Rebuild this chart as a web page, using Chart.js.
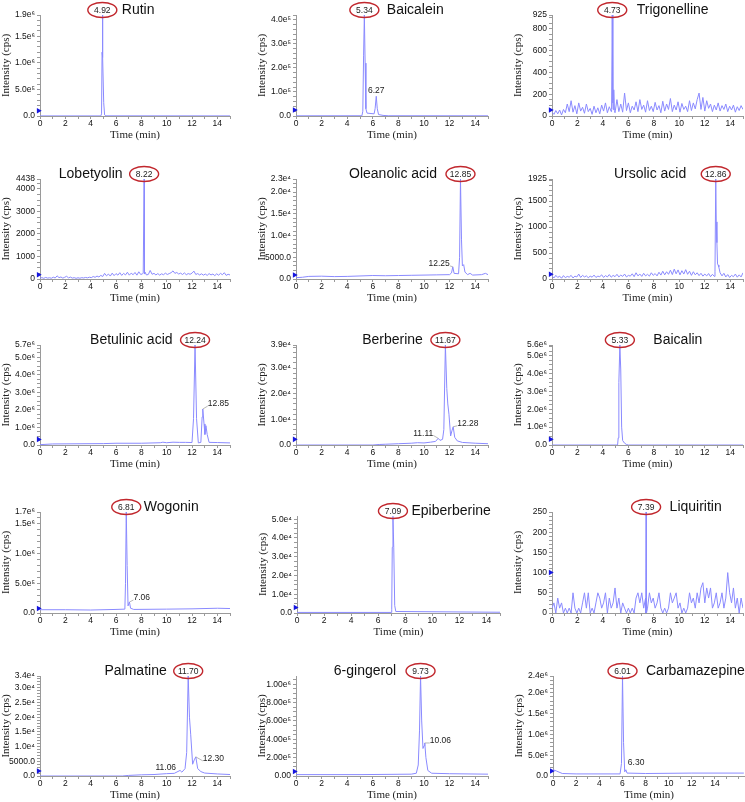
<!DOCTYPE html>
<html>
<head>
<meta charset="utf-8">
<script src="https://cdn.jsdelivr.net/npm/chart.js@4.4.0/dist/chart.umd.min.js"></script>
<style>
  html, body { margin: 0; padding: 0; background: #fff; }
  #wrap { position: relative; width: 745px; height: 802px; overflow: hidden; background: #fff; }
  .panel { position: absolute; }
</style>
</head>
<body>
<div id="wrap"></div>
<script>
// time grid (min) shared by the noisy traces
const noiseTime = [0,0.15,0.3,0.45,0.6,0.75,0.9,1.05,1.2,1.35,1.5,1.65,1.8,1.95,2.1,2.25,2.4,2.55,2.7,2.85,
  3,3.15,3.3,3.45,3.6,3.75,3.9,4.05,4.2,4.35,4.5,4.65,4.8,4.95,5.1,5.25,5.4,5.55,5.7,5.85,
  6,6.15,6.3,6.45,6.6,6.75,6.9,7.05,7.2,7.35,7.5,7.65,7.8,7.95,8.1,8.25,8.4,8.55,8.7,8.85,
  9,9.15,9.3,9.45,9.6,9.75,9.9,10.05,10.2,10.35,10.5,10.65,10.8,10.95,11.1,11.25,11.4,11.55,11.7,11.85,
  12,12.15,12.3,12.45,12.6,12.75,12.9,13.05,13.2,13.35,13.5,13.65,13.8,13.95,14.1,14.25,14.4,14.55,14.7,14.85,15];

// [time, intensity] pairs
const rutinTrace = [[0,1500],[4.8,1500],[4.86,4e4],[4.9,1.2e6],[4.92,1.9e6],[4.97,1.1e6],[5.03,2.5e5],[5.1,2e4],[5.2,3000],[15,2000]];
const baicaleinTrace = [[0,800],[5.15,1000],[5.22,2e4],[5.28,2.5e5],[5.34,4.2e5],[5.4,2.2e5],[5.46,3e4],[5.55,1.2e4],[6.1,9000],
  [6.18,3e4],[6.27,8.2e4],[6.35,3e4],[6.45,6000],[6.8,2500],[7.2,1000],[15,800]];
const trigNoise = [35,15,50,20,55,10,60,30,110,40, 140,35,95,20,120,45,80,25,110,40, 70,15,90,30,75,20,100,45,120,30,
  85,40,60,30,150,40,110,35,210,50, 120,30,90,55,130,40,150,60,100,35, 140,50,90,40,125,55,95,30,135,45,
  110,60,160,40,100,55,130,35,115,60, 90,40,140,50,120,65,150,210,60,170, 45,140,70,110,40,100,55,120,45,95,
  60,110,40,90,55,100,35,85,50,95, 60];
const trigPeak = [[4.68,60],[4.73,925],[4.78,120],[4.85,240],[4.9,50]];
const lobNoise = [40,60,30,70,40,55,35,80,45,140, 60,90,40,75,120,50,85,40,60,30, 55,35,60,45,70,50,80,60,110,75,
  130,90,160,110,250,140,220,130,260,150, 240,170,280,160,250,180,300,170,260,190, 290,170,320,200,230,220,180,200,380,210,
  250,180,240,170,230,190,260,200,240,280, 360,250,290,220,260,200,270,190,240,210, 260,350,200,240,180,230,170,220,160,240,
  180,220,150,230,170,250,190,280,160,210, 180];
const lobPeak = [[8.15,260],[8.22,4438],[8.3,300]];
const oleanolicTrace = [[0,300],[0.5,400],[1,600],[2,650],[3,550],[4,600],[5,700],[6,800],[7,750],[8,800],[9,850],[10,900],
  [11,950],[12,1000],[12.15,1400],[12.25,2800],[12.35,1300],[12.7,1200],[12.78,5000],[12.85,2.3e4],[12.93,9000],[13,3000],
  [13.1,3300],[13.2,1600],[13.4,1000],[13.6,1300],[13.8,900],[14.5,1000],[14.8,1300],[15,1000]];
const ursNoise = [60,20,70,30,55,15,65,25,50,35, 70,20,55,40,95,30,70,40,60,25, 55,35,75,30,55,45,80,30,65,40,
  85,35,70,45,90,40,75,50,95,40, 70,55,100,45,120,60,95,50,110,60, 90,55,120,70,105,60,130,75,150,80,
  140,90,170,85,190,100,175,80,160,95, 180,90,150,70,140,80,120,65,110,55, 95,60,105,45,90,50,1100,270,120,60,
  110,40,85,30,70,45,95,35,80,40, 120];
const ursPeak = [[12.8,150],[12.86,1925],[12.95,700],[13,290],[13.1,230]];
const betulinicTrace = [[0,2e4],[1,6e4],[3,7e4],[5,8e4],[6,1e5],[8,1e5],[9.5,1.3e5],[9.7,1.6e5],[10,1.3e5],[10.5,1.6e5],
  [11,1.5e5],[11.5,1.5e5],[12,1.4e5],[12.12,1.5e6],[12.24,5.7e6],[12.36,1.5e6],[12.5,1.2e5],[12.7,1.5e5],[12.8,1.6e6],
  [12.85,2.05e6],[12.95,1.2e6],[13.02,6e5],[13.1,1.1e6],[13.2,6e5],[13.35,1.5e5],[14,1.4e5],[15,1.2e5]];
const berberineTrace = [[0,0],[6,0],[6.5,200],[7,300],[8,500],[9,700],[9.5,900],[10,800],[10.5,1100],[10.9,1400],[11.11,2600],
  [11.25,1800],[11.45,2200],[11.55,6000],[11.67,3.9e4],[11.78,2.2e4],[11.86,1.6e4],[11.95,1.2e4],[12.08,3500],[12.18,5500],
  [12.28,7100],[12.4,3000],[12.6,1600],[13,1000],[14,700],[15,500]];
const baicalinTrace = [[0,0],[5.15,0],[5.2,4e5],[5.25,3.5e6],[5.33,5.6e6],[5.4,4.2e6],[5.47,1e6],[5.55,2.5e5],[5.7,1e5],
  [5.85,3e4],[6,0],[15,0]];
const wogoninTrace = [[0,5.5e4],[2,5.5e4],[4,5e4],[6,6e4],[6.7,6.5e4],[6.75,5e5],[6.81,1.7e6],[6.88,8e5],[6.95,1.2e5],
  [7.06,1.85e5],[7.15,8e4],[7.4,6e4],[10,6.5e4],[12,7e4],[14,8e4],[15,7.5e4]];
const epiberberineTrace = [[0,300],[6.95,300],[7,2000],[7.04,3.5e4],[7.09,5.15e4],[7.15,3.5e4],[7.22,4000],[7.3,800],[15,400]];
const liqNoise = [12,25,0,37,12,25,0,12,0,12, 0,50,12,0,12,0,25,50,12,50, 0,12,0,25,50,37,12,25,50,0,
  37,12,25,62,12,37,0,25,12,0, 12,0,12,0,37,50,25,50,12,37, 12,50,25,37,12,25,50,12,0,12,
  0,12,50,25,37,50,12,25,0,12, 0,12,50,25,37,12,50,25,62,75, 25,62,37,62,12,25,50,12,25,50,
  12,37,100,50,25,62,12,37,0,37, 12];
const liqPeak = [[7.36,0],[7.39,250],[7.42,0]];
const palmatineTrace = [[0,0],[6.5,0],[7,200],[8,400],[9,500],[10,800],[10.6,900],[11.06,1900],[11.2,1300],[11.45,2500],
  [11.58,8000],[11.7,3.4e4],[11.8,2e4],[11.9,1.4e4],[12.05,4000],[12.18,5500],[12.3,6500],[12.45,2500],[12.7,1500],
  [13,1000],[14,700],[15,500]];
const gingerolTrace = [[0,1.5e4],[5,1.5e4],[9,2e4],[9.4,3e4],[9.55,1.2e5],[9.65,5e5],[9.73,1.09e6],[9.82,6e5],[9.92,3e5],
  [10,3.3e5],[10.06,3.6e5],[10.15,2e5],[10.3,6e4],[10.6,3e4],[12,2.5e4],[15,2e4]];
const carbamazepineTrace = [[0,1.5e5],[0.3,1.2e5],[0.8,6e4],[2,5e4],[5.8,5e4],[5.92,3e5],[6.01,2.4e6],[6.1,8e5],[6.2,1e5],
  [6.3,1.5e5],[6.4,7e4],[8,6e4],[12,7e4],[16.5,7e4]];

// axis tick values and labels
const xTickLabels = [0,2,4,6,8,10,12,14];
const rutinYTicks = [0,5e5,1e6,1.5e6,1.9e6];            const rutinYLabels = ['0.0','5.0e⁵','1.0e⁶','1.5e⁶','1.9e⁶'];
const baicaleinYTicks = [0,1e5,2e5,3e5,4e5];             const baicaleinYLabels = ['0.0','1.0e⁵','2.0e⁵','3.0e⁵','4.0e⁵'];
const trigYTicks = [0,200,400,600,800,925];              const trigYLabels = ['0','200','400','600','800','925'];
const lobYTicks = [0,1000,2000,3000,4000,4438];          const lobYLabels = ['0','1000','2000','3000','4000','4438'];
const oleanolicYTicks = [0,5000,1e4,1.5e4,2e4,2.3e4];    const oleanolicYLabels = ['0.0','5000.0','1.0e⁴','1.5e⁴','2.0e⁴','2.3e⁴'];
const ursYTicks = [0,500,1000,1500,1925];                const ursYLabels = ['0','500','1000','1500','1925'];
const betulinicYTicks = [0,1e6,2e6,3e6,4e6,5e6,5.7e6];   const betulinicYLabels = ['0.0','1.0e⁶','2.0e⁶','3.0e⁶','4.0e⁶','5.0e⁶','5.7e⁶'];
const berberineYTicks = [0,1e4,2e4,3e4,3.9e4];           const berberineYLabels = ['0.0','1.0e⁴','2.0e⁴','3.0e⁴','3.9e⁴'];
const baicalinYTicks = [0,1e6,2e6,3e6,4e6,5e6,5.6e6];    const baicalinYLabels = ['0.0','1.0e⁶','2.0e⁶','3.0e⁶','4.0e⁶','5.0e⁶','5.6e⁶'];
const wogoninYTicks = [0,5e5,1e6,1.5e6,1.7e6];           const wogoninYLabels = ['0.0','5.0e⁵','1.0e⁶','1.5e⁶','1.7e⁶'];
const epiberberineYTicks = [0,1e4,2e4,3e4,4e4,5e4];      const epiberberineYLabels = ['0.0','1.0e⁴','2.0e⁴','3.0e⁴','4.0e⁴','5.0e⁴'];
const liqYTicks = [0,50,100,150,200,250];                const liqYLabels = ['0','50','100','150','200','250'];
const palmatineYTicks = [0,5000,1e4,1.5e4,2e4,2.5e4,3e4,3.4e4];
const palmatineYLabels = ['0.0','5000.0','1.0e⁴','1.5e⁴','2.0e⁴','2.5e⁴','3.0e⁴','3.4e⁴'];
const gingerolYTicks = [0,2e5,4e5,6e5,8e5,1e6];          const gingerolYLabels = ['0.00','2.00e⁵','4.00e⁵','6.00e⁵','8.00e⁵','1.00e⁶'];
const carbamazepineYTicks = [0,5e5,1e6,1.5e6,2e6,2.4e6]; const carbamazepineYLabels = ['0.0','5.0e⁵','1.0e⁶','1.5e⁶','2.0e⁶','2.4e⁶'];

function withNoise(noise, peak) {
  const pts = noise.map((v, k) => [noiseTime[k], v]).concat(peak);
  return pts.sort((a, b) => a[0] - b[0]);
}

const panels = [
  { name: 'Rutin', trace: rutinTrace, yTicks: rutinYTicks, yLabels: rutinYLabels, yMax: 1.9e6, minor: 1e5, marker: 1e5,
    peak: 4.92, side: 'right', gap: 5, notes: [] },
  { name: 'Baicalein', trace: baicaleinTrace, yTicks: baicaleinYTicks, yLabels: baicaleinYLabels, yMax: 4.2e5, minor: 2e4, marker: 2.5e4,
    peak: 5.34, side: 'right', gap: 8, notes: [{ rt: 6.27, v: 8.2e4, text: '6.27', dx: 0, dy: -6, align: 'center' }] },
  { name: 'Trigonelline', trace: withNoise(trigNoise, trigPeak), yTicks: trigYTicks, yLabels: trigYLabels, yMax: 925, minor: 50, marker: 55,
    peak: 4.73, side: 'right', gap: 10, notes: [] },
  { name: 'Lobetyolin', trace: withNoise(lobNoise, lobPeak), yTicks: lobYTicks, yLabels: lobYLabels, yMax: 4438, minor: 250, marker: 190,
    peak: 8.22, side: 'left', gap: 7, notes: [] },
  { name: 'Oleanolic acid', trace: oleanolicTrace, yTicks: oleanolicYTicks, yLabels: oleanolicYLabels, yMax: 2.3e4, minor: 1000, marker: 900,
    peak: 12.85, side: 'left', gap: 9, notes: [{ rt: 12.25, v: 2800, text: '12.25', dx: -3, dy: -3, align: 'right', leader: true }] },
  { name: 'Ursolic acid', trace: withNoise(ursNoise, ursPeak), yTicks: ursYTicks, yLabels: ursYLabels, yMax: 1925, minor: 100, marker: 90,
    peak: 12.86, side: 'left', gap: 15, notes: [] },
  { name: 'Betulinic acid', trace: betulinicTrace, yTicks: betulinicYTicks, yLabels: betulinicYLabels, yMax: 5.7e6, minor: 2.5e5, marker: 3.2e5,
    peak: 12.24, side: 'left', gap: 8, notes: [{ rt: 12.85, v: 2.05e6, text: '12.85', dx: 5, dy: -5, align: 'left', leader: true }] },
  { name: 'Berberine', trace: berberineTrace, yTicks: berberineYTicks, yLabels: berberineYLabels, yMax: 3.9e4, minor: 2000, marker: 2200,
    peak: 11.67, side: 'left', gap: 8, notes: [
      { rt: 11.11, v: 2600, text: '11.11', dx: -5, dy: -5, align: 'right', leader: true },
      { rt: 12.28, v: 7100, text: '12.28', dx: 4, dy: -3, align: 'left', leader: true }] },
  { name: 'Baicalin', trace: baicalinTrace, yTicks: baicalinYTicks, yLabels: baicalinYLabels, yMax: 5.6e6, minor: 2.5e5, marker: 3.2e5,
    peak: 5.33, side: 'right', gap: 19, notes: [] },
  { name: 'Wogonin', trace: wogoninTrace, yTicks: wogoninYTicks, yLabels: wogoninYLabels, yMax: 1.7e6, minor: 1e5, marker: 7.5e4,
    peak: 6.81, side: 'right', gap: 3, notes: [{ rt: 7.06, v: 1.85e5, text: '7.06', dx: 4, dy: -4, align: 'left', leader: true }] },
  { name: 'Epiberberine', trace: epiberberineTrace, yTicks: epiberberineYTicks, yLabels: epiberberineYLabels, yMax: 5.17e4, minor: 2500, marker: 2900,
    peak: 7.09, side: 'right', gap: 4, notes: [], xBox: [296.7, 500], yBox: [516, 612.7] },
  { name: 'Liquiritin', trace: withNoise(liqNoise, liqPeak), yTicks: liqYTicks, yLabels: liqYLabels, yMax: 250, minor: 10, marker: 100,
    peak: 7.39, side: 'right', gap: 9, notes: [] },
  { name: 'Palmatine', trace: palmatineTrace, yTicks: palmatineYTicks, yLabels: palmatineYLabels, yMax: 3.4e4, minor: 1000, marker: 1700,
    peak: 11.70, side: 'left', gap: 7, notes: [
      { rt: 11.06, v: 1900, text: '11.06', dx: -4, dy: -3, align: 'right', leader: false },
      { rt: 12.30, v: 6500, text: '12.30', dx: 7, dy: 2, align: 'left', leader: true }] },
  { name: '6-gingerol', trace: gingerolTrace, yTicks: gingerolYTicks, yLabels: gingerolYLabels, yMax: 1.09e6, minor: 5e4, marker: 5e4,
    peak: 9.73, side: 'left', gap: 10, notes: [{ rt: 10.06, v: 3.6e5, text: '10.06', dx: 5, dy: -2, align: 'left', leader: true }] },
  { name: 'Carbamazepine', trace: carbamazepineTrace, yTicks: carbamazepineYTicks, yLabels: carbamazepineYLabels, yMax: 2.4e6, minor: 1e5, marker: 1.2e5,
    peak: 6.01, side: 'right', gap: 9, xMax: 16.6, notes: [{ rt: 6.30, v: 1.5e5, text: '6.30', dx: 2, dy: -7, align: 'left', leader: false }],
    xBox: [553, 745] }
];

// pixel frame of each plot area
const colBox = [[40, 230], [296, 488], [552, 743]];
const rowBox = [[15, 116], [179, 279], [345, 445], [512, 612.7], [676, 776]];

const SANS = '"Liberation Sans", Arial, sans-serif';
const SERIF = '"Liberation Serif", "Times New Roman", serif';

function labelPlugin(p) {
  return {
    id: 'peakLabels',
    afterDatasetsDraw(chart) {
      const ctx = chart.ctx, xs = chart.scales.x, ys = chart.scales.y;
      ctx.save();
      const cx = xs.getPixelForValue(p.peak);
      const cy = ys.getPixelForValue(p.yMax) - 5;
      ctx.strokeStyle = '#c1272d';
      ctx.lineWidth = 1.4;
      ctx.beginPath();
      ctx.ellipse(cx, cy, 14.5, 7.5, 0, 0, Math.PI * 2);
      ctx.stroke();
      ctx.fillStyle = '#222';
      ctx.font = '8.5px ' + SANS;
      ctx.textAlign = 'center';
      ctx.textBaseline = 'middle';
      ctx.fillText(p.peak.toFixed(2), cx, cy + 0.5);

      ctx.font = '14px ' + SANS;
      ctx.fillStyle = '#111';
      if (p.side === 'right') {
        ctx.textAlign = 'left';
        ctx.fillText(p.name, cx + 14.5 + p.gap, cy);
      } else {
        ctx.textAlign = 'right';
        ctx.fillText(p.name, cx - 14.5 - p.gap, cy);
      }

      ctx.font = '8.5px ' + SANS;
      p.notes.forEach(n => {
        const px = xs.getPixelForValue(n.rt), py = ys.getPixelForValue(n.v);
        const tx = px + n.dx, ty = py + n.dy;
        ctx.textAlign = n.align;
        ctx.fillStyle = '#222';
        ctx.fillText(n.text, tx, ty);
        if (n.leader) {
          ctx.strokeStyle = '#999';
          ctx.lineWidth = 0.7;
          ctx.beginPath();
          ctx.moveTo(px, py);
          ctx.lineTo(tx, ty + 2);
          ctx.stroke();
        }
      });
      ctx.restore();
    }
  };
}

const wrap = document.getElementById('wrap');
const padTop = 20, yW = 40, xH = 26, padR = 12;

panels.forEach((p, i) => {
  const col = i % 3, row = Math.floor(i / 3);
  const [ax0, ax1] = p.xBox || colBox[col];
  const [ay0, ay1] = p.yBox || rowBox[row];
  const xMax = p.xMax || 15;

  const div = document.createElement('div');
  div.className = 'panel';
  const w = Math.round(ax1 - ax0 + yW + padR);
  const h = Math.round(padTop + (ay1 - ay0) + xH);
  div.style.left = (ax0 - yW) + 'px';
  div.style.top = (ay0 - padTop) + 'px';
  div.style.width = w + 'px';
  div.style.height = h + 'px';
  const cv = document.createElement('canvas');
  cv.width = w; cv.height = h;
  cv.style.width = w + 'px'; cv.style.height = h + 'px';
  div.appendChild(cv);
  wrap.appendChild(div);

  // labelled y ticks plus unlabelled minor ones
  const yVals = p.yTicks.slice();
  for (let v = 0; v <= p.yMax + 1e-9; v += p.minor) {
    if (!yVals.some(t => Math.abs(t - v) < p.minor * 1e-3)) yVals.push(v);
  }
  yVals.sort((a, b) => a - b);
  const xVals = [];
  for (let v = 0; v <= Math.floor(xMax); v++) xVals.push(v);

  new Chart(cv, {
    type: 'line',
    data: {
      datasets: [
        {
          data: p.trace.map(([x, y]) => ({ x, y })),
          borderColor: 'rgb(138,138,255)',
          borderWidth: 1,
          pointRadius: 0,
          tension: 0,
          fill: false
        },
        {
          data: [{ x: -0.12, y: p.marker }],
          showLine: false,
          pointStyle: 'triangle',
          rotation: 90,
          pointRadius: 3.2,
          backgroundColor: '#1515e0',
          pointBackgroundColor: '#1515e0',
          pointBorderWidth: 0,
          clip: false
        }
      ]
    },
    options: {
      responsive: false,
      animation: false,
      devicePixelRatio: 1,
      layout: { padding: { top: padTop, right: padR, left: 0, bottom: 0 } },
      plugins: { legend: { display: false }, tooltip: { enabled: false } },
      scales: {
        x: {
          type: 'linear',
          min: 0,
          max: xMax,
          afterBuildTicks: s => { s.ticks = xVals.map(v => ({ value: v })); },
          afterFit: s => { s.height = xH; },
          ticks: {
            autoSkip: false,
            maxRotation: 0,
            padding: 0,
            color: '#111',
            font: { family: SANS, size: 8.5 },
            callback: v => xTickLabels.includes(v) ? String(v) : ''
          },
          grid: { drawOnChartArea: false, drawTicks: true, tickLength: 3, color: '#9a9a9a' },
          border: { display: true, color: '#9a9a9a', width: 1 },
          title: { display: true, text: 'Time (min)', color: '#222', padding: 0, font: { family: SERIF, size: 11 } }
        },
        y: {
          min: 0,
          max: p.yMax,
          afterBuildTicks: s => { s.ticks = yVals.map(v => ({ value: v })); },
          afterFit: s => { s.width = yW; },
          ticks: {
            autoSkip: false,
            padding: 2,
            color: '#111',
            font: { family: SANS, size: 8.5 },
            callback: v => {
              const k = p.yTicks.findIndex(t => Math.abs(t - v) < p.minor * 1e-3);
              return k >= 0 ? p.yLabels[k] : '';
            }
          },
          grid: { drawOnChartArea: false, drawTicks: true, tickLength: 3, color: '#9a9a9a' },
          border: { display: true, color: '#9a9a9a', width: 1 },
          title: { display: true, text: 'Intensity (cps)', color: '#222', padding: 0, font: { family: SERIF, size: 11 } }
        }
      }
    },
    plugins: [labelPlugin(p)]
  });
});
</script>
</body>
</html>
